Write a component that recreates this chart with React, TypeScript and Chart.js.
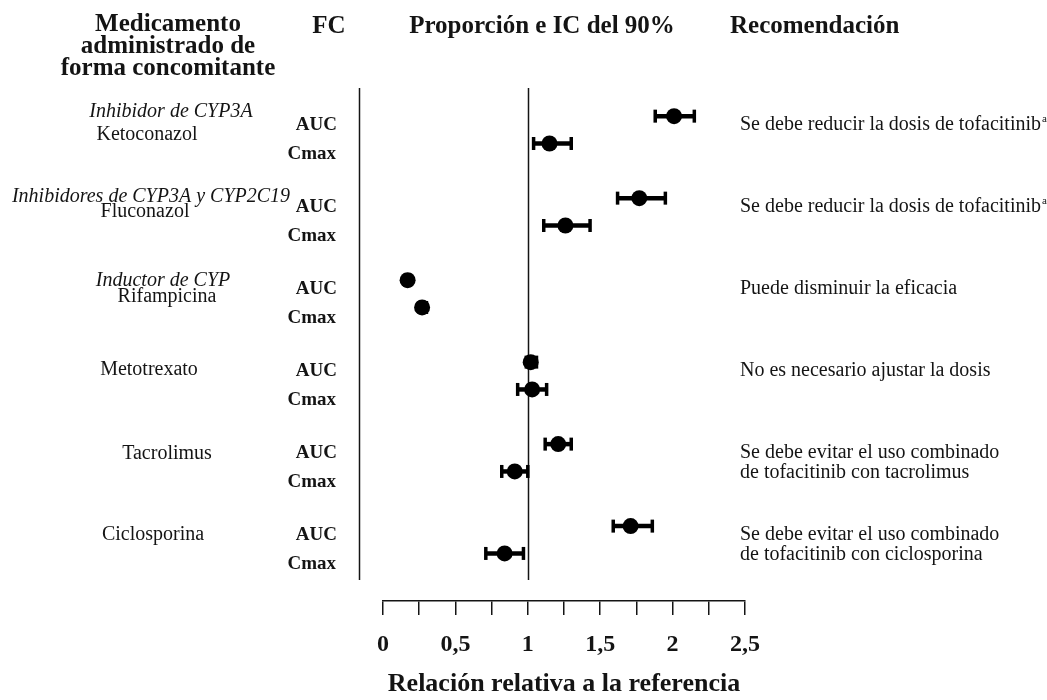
import React, { useEffect, useRef } from 'react';
import { Chart, registerables } from 'chart.js';

Chart.register(...registerables);

// ---------- data ----------
const drugs = ['Ketoconazol', 'Fluconazol', 'Rifampicina', 'Metotrexato', 'Tacrolimus', 'Ciclosporina'];
const drugClasses = ['Inhibidor de CYP3A', 'Inhibidores de CYP3A y CYP2C19', 'Inductor de CYP', '', '', ''];
const pkParams = ['AUC', 'Cmax'];

const aucRatio = [2.01, 1.77, 0.17, 1.02, 1.21, 1.71];
const aucLower = [1.88, 1.62, 0.15, 0.99, 1.12, 1.59];
const aucUpper = [2.15, 1.95, 0.19, 1.06, 1.30, 1.86];

const cmaxRatio = [1.15, 1.26, 0.27, 1.03, 0.91, 0.84];
const cmaxLower = [1.04, 1.11, 0.25, 0.93, 0.82, 0.71];
const cmaxUpper = [1.30, 1.43, 0.30, 1.13, 1.00, 0.97];

const recommendations = [
  ['Se debe reducir la dosis de tofacitinib'],
  ['Se debe reducir la dosis de tofacitinib'],
  ['Puede disminuir la eficacia'],
  ['No es necesario ajustar la dosis'],
  ['Se debe evitar el uso combinado', 'de tofacitinib con tacrolimus'],
  ['Se debe evitar el uso combinado', 'de tofacitinib con ciclosporina'],
];
const recommendationNotes = ['a', 'a', '', '', '', ''];

const headerDrug = ['Medicamento', 'administrado de', 'forma concomitante'];
const headerPk = 'FC';
const headerRatio = 'Proporción e IC del 90%';
const headerRec = 'Recomendación';
const axisTitle = 'Relación relativa a la referencia';
const xTicks = [0, 0.25, 0.5, 0.75, 1, 1.25, 1.5, 1.75, 2, 2.25, 2.5];
const referenceValue = 1;

// ---------- layout (not data) ----------
const SERIF = '"Liberation Serif", "Times New Roman", serif';
const INK = '#141414';
const drugLabelX = [147, 145, 167, 149, 167, 153];
const drugLabelDy = [19, 14, 17, 8, 10, 9];
const classLabelX = [171, 151, 163, 0, 0, 0];
const classLabelDy = [-4, -1, 1, 0, 0, 0];

const rowOf = (i: number, p: number) => i * 3 + p;

export default function App() {
  const canvasRef = useRef<HTMLCanvasElement | null>(null);

  useEffect(() => {
    const canvas = canvasRef.current;
    if (!canvas) return;

    const markers = drugs.flatMap((_, i) => [
      { x: aucRatio[i], y: rowOf(i, 0) },
      { x: cmaxRatio[i], y: rowOf(i, 1) },
    ]);
    const caps = drugs.flatMap((_, i) => [
      { x: aucLower[i], y: rowOf(i, 0) },
      { x: aucUpper[i], y: rowOf(i, 0) },
      { x: cmaxLower[i], y: rowOf(i, 1) },
      { x: cmaxUpper[i], y: rowOf(i, 1) },
    ]);
    const ciLines = drugs.flatMap((_, i) => [
      [{ x: aucLower[i], y: rowOf(i, 0) }, { x: aucUpper[i], y: rowOf(i, 0) }],
      [{ x: cmaxLower[i], y: rowOf(i, 1) }, { x: cmaxUpper[i], y: rowOf(i, 1) }],
    ]);

    const textPlugin = {
      id: 'forestText',
      beforeDatasetsDraw(chart: any) {
        const { ctx, chartArea, scales } = chart;
        const x = scales.x;
        const lineBottom = chartArea.bottom - 21;
        ctx.save();
        ctx.strokeStyle = INK;
        ctx.lineWidth = 1.5;
        [-0.165, referenceValue].forEach((v) => {
          const px = Math.round(x.getPixelForValue(v)) + 0.5;
          ctx.beginPath();
          ctx.moveTo(px, chartArea.top);
          ctx.lineTo(px, lineBottom);
          ctx.stroke();
        });
        ctx.restore();
      },
      afterDraw(chart: any) {
        const { ctx, scales } = chart;
        const y = scales.y;
        ctx.save();
        ctx.fillStyle = INK;
        ctx.textBaseline = 'middle';

        // headers
        ctx.font = `bold 25px ${SERIF}`;
        ctx.textAlign = 'center';
        headerDrug.forEach((t, k) => ctx.fillText(t, 168, 25 + k * 22));
        ctx.fillText(headerPk, 329, 27);
        ctx.fillText(headerRatio, 542, 27);
        ctx.textAlign = 'left';
        ctx.fillText(headerRec, 730, 27);

        drugs.forEach((d, i) => {
          const yA = y.getPixelForValue(rowOf(i, 0));
          const yC = y.getPixelForValue(rowOf(i, 1));
          // PK labels
          ctx.font = `bold 19px ${SERIF}`;
          ctx.textAlign = 'right';
          ctx.fillText(pkParams[0], 337, yA + 9);
          ctx.fillText(pkParams[1], 336, yC + 10.5);
          // class labels
          ctx.textAlign = 'center';
          if (drugClasses[i]) {
            ctx.font = `italic 20px ${SERIF}`;
            ctx.fillText(drugClasses[i], classLabelX[i], yA + classLabelDy[i]);
          }
          ctx.font = `20px ${SERIF}`;
          ctx.fillText(d, drugLabelX[i], yA + drugLabelDy[i]);
          // recommendations
          ctx.textAlign = 'left';
          ctx.font = `20px ${SERIF}`;
          recommendations[i].forEach((line, k) => {
            ctx.fillText(line, 740, yA + 9 + k * 20);
          });
          if (recommendationNotes[i]) {
            const w = ctx.measureText(recommendations[i][0]).width;
            ctx.font = `11px ${SERIF}`;
            ctx.fillText(recommendationNotes[i], 740 + w + 1, yA + 3);
          }
        });
        ctx.restore();
      },
    };

    const chart = new Chart(canvas, {
      type: 'scatter',
      data: {
        datasets: [
          {
            data: markers,
            pointRadius: 8,
            pointHoverRadius: 8,
            pointStyle: 'circle',
            backgroundColor: '#000',
            borderColor: '#000',
            borderWidth: 0,
            clip: false,
          } as any,
          {
            data: caps,
            pointStyle: 'line',
            rotation: 90,
            pointRadius: 6.5,
            pointHoverRadius: 6.5,
            borderColor: '#000',
            borderWidth: 3.5,
            clip: false,
          } as any,
          ...ciLines.map((seg) => ({
            data: seg,
            showLine: true,
            borderColor: '#000',
            borderWidth: 4.5,
            pointRadius: 0,
            pointHoverRadius: 0,
            clip: false,
          })),
        ],
      },
      options: {
        animation: false,
        responsive: true,
        maintainAspectRatio: false,
        events: [],
        layout: { padding: { left: 383, right: 302, top: 88, bottom: 0 } },
        plugins: {
          legend: { display: false },
          tooltip: { enabled: false },
        },
        scales: {
          y: {
            type: 'linear',
            reverse: true,
            min: -1.03,
            max: 17.74,
            display: false,
          },
          x: {
            type: 'linear',
            position: 'bottom',
            min: 0,
            max: 2.5,
            afterBuildTicks: (axis: any) => {
              axis.ticks = xTicks.map((v) => ({ value: v }));
            },
            afterFit: (axis: any) => {
              axis.height = 99;
            },
            grid: {
              display: true,
              drawOnChartArea: false,
              drawTicks: true,
              tickLength: 14,
              color: INK,
              lineWidth: 1.5,
            },
            border: { display: true, color: INK, width: 1.5 },
            ticks: {
              autoSkip: false,
              maxRotation: 0,
              padding: 15,
              color: INK,
              font: { family: SERIF, size: 24, weight: 'bold' },
              callback: (value: any) => {
                const v = Number(value);
                return Math.abs(v * 2 - Math.round(v * 2)) < 1e-6 ? String(v).replace('.', ',') : '';
              },
            },
            title: {
              display: true,
              text: axisTitle,
              color: INK,
              font: { family: SERIF, size: 26, weight: 'bold' },
              padding: { top: 0, bottom: 0 },
            },
          },
        },
      } as any,
      plugins: [textPlugin],
    });

    return () => chart.destroy();
  }, []);

  return (
    <div style={{ position: 'fixed', left: 0, top: 0, width: 1047, height: 700, background: '#fff' }}>
      <canvas ref={canvasRef} />
    </div>
  );
}
